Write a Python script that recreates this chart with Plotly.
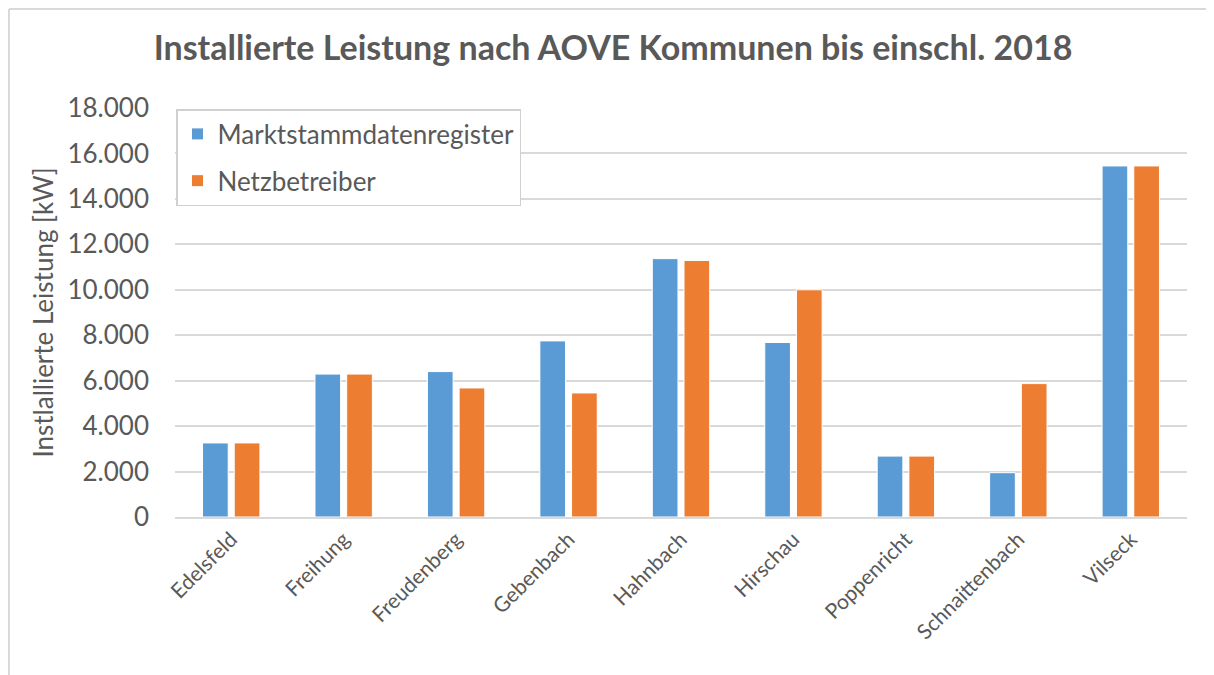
import plotly.graph_objects as go

categories = ["Edelsfeld", "Freihung", "Freudenberg", "Gebenbach", "Hahnbach",
              "Hirschau", "Poppenricht", "Schnaittenbach", "Vilseck"]
marktstamm = [3260, 6290, 6400, 7750, 11370, 7680, 2680, 1950, 15450]
netzbetreiber = [3260, 6290, 5680, 5460, 11290, 10000, 2680, 5870, 15450]
y_ticks = [0, 2000, 4000, 6000, 8000, 10000, 12000, 14000, 16000, 18000]
y_labels = ["0", "2.000", "4.000", "6.000", "8.000", "10.000", "12.000", "14.000", "16.000", "18.000"]

FONT = "Lato"
GRAY = "#595959"

fig = go.Figure()
fig.add_trace(go.Bar(x=categories, y=marktstamm, name="Marktstammdatenregister",
                     marker=dict(color="#5B9BD5", line=dict(color="white", width=1)),
                     legendgroup="a"))
fig.add_trace(go.Bar(x=categories, y=netzbetreiber, name="Netzbetreiber",
                     marker=dict(color="#ED7D31", line=dict(color="white", width=1)),
                     legendgroup="b"))

OFF = 8  # page body margin
W, H = 1206, 667
L, R, T, B = 167, 27, 100, 158
pw, ph = W - L - R, H - T - B

def px(x):  # page x -> paper x
    return (x - OFF - L) / pw

def py(y):  # page y -> paper y
    return (H - B - (y - OFF)) / ph

fig.update_layout(
    width=W, height=H,
    margin=dict(l=L, r=R, t=T, b=B),
    paper_bgcolor="white", plot_bgcolor="white",
    font=dict(family=FONT, color=GRAY),
    title=dict(text="<b>Installierte Leistung nach AOVE Kommunen bis einschl. 2018</b>",
               x=(613 - OFF) / W, xanchor="center", y=1 - (48 - OFF) / H, yanchor="middle",
               font=dict(family=FONT, size=34, color=GRAY)),
    barmode="group", bargap=0.436, bargroupgap=0.19,
    showlegend=True,
    legend=dict(x=px(176), y=py(109), xanchor="left", yanchor="top",
                bgcolor="white", bordercolor="#D0D0D0", borderwidth=1.5,
                font=dict(family=FONT, size=26, color=GRAY),
                traceorder="grouped", tracegroupgap=10),
    xaxis=dict(tickangle=-45, tickfont=dict(family=FONT, size=21, color=GRAY),
               showline=True, linecolor="#D9D9D9", linewidth=1.5, ticks=""),
    yaxis=dict(range=[0, 18000], tickvals=y_ticks, ticktext=y_labels,
               tickfont=dict(family=FONT, size=26, color=GRAY),
               gridcolor="#D9D9D9", gridwidth=1.5, zeroline=False,
               ticklabelstandoff=25,
               title=dict(text="Instlallierte Leistung [kW]", standoff=6,
                          font=dict(family=FONT, size=26, color=GRAY))),
    shapes=[
        dict(type="line", xref="paper", yref="paper", x0=px(9), x1=px(9), y0=py(9), y1=py(690),
             line=dict(color="#D9D9D9", width=2)),
        dict(type="line", xref="paper", yref="paper", x0=px(9), x1=px(1213), y0=py(9), y1=py(9),
             line=dict(color="#D9D9D9", width=2)),
        dict(type="line", xref="paper", yref="paper", x0=px(1212), x1=px(1212), y0=py(9), y1=py(690),
             line=dict(color="#E6E6E6", width=1)),
    ],
)

fig.write_html("out.html")
